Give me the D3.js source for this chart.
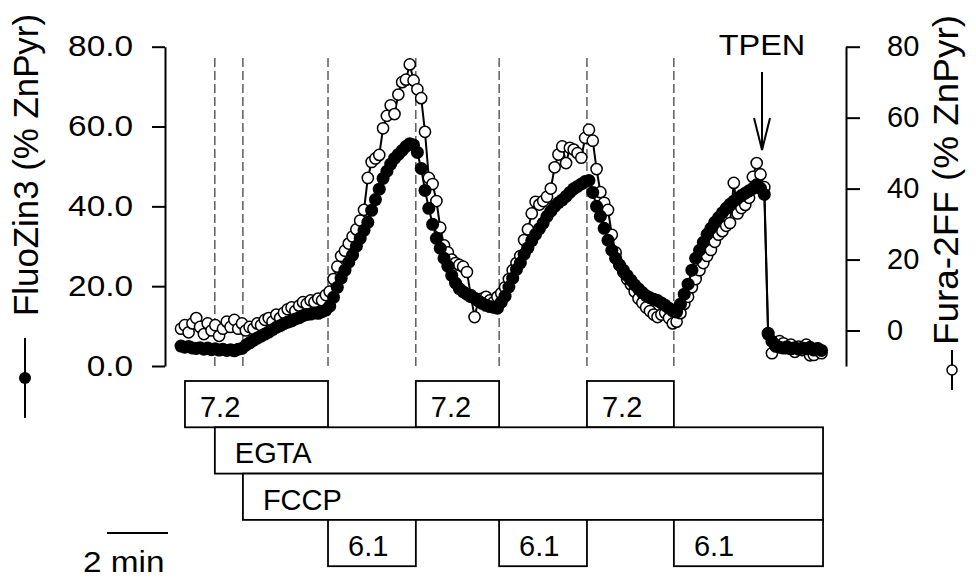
<!DOCTYPE html>
<html><head><meta charset="utf-8">
<script src="https://cdn.jsdelivr.net/npm/d3@7"></script>
<style>
body{margin:0;background:#fff}
text{font-family:"Liberation Sans",Arial,Helvetica,sans-serif;fill:#000}
</style>
</head><body>
<svg id="c" width="976" height="578"></svg>
<script>
// ---- data ----
const sampleIntervalMin = 0.125; // minutes between samples
const fluoZin3 = [
  5.0,4.7,4.9,4.5,4.4,4.6,4.2,4.5,4.1,4.3,
  4.0,4.2,3.9,4.1,3.8,4.2,4.4,5.2,5.8,6.4,
  7.0,7.5,8.0,8.5,9.1,9.7,10.1,10.6,11.0,11.3,
  11.8,12.1,12.6,12.9,13.0,13.3,13.2,13.6,14.0,15.0,
  17.2,19.7,22.0,24.0,26.0,27.8,30.0,32.0,34.0,36.0,
  39.0,41.7,44.3,47.0,48.8,50.6,52.0,53.0,54.0,55.0,
  55.7,55.4,53.5,49.5,44.0,39.5,35.5,32.0,29.5,27.0,
  25.0,22.7,20.8,19.4,18.6,18.0,17.4,17.0,16.3,15.7,
  15.2,14.9,14.7,14.5,16.0,17.5,19.8,22.0,24.2,25.8,
  28.0,29.6,31.4,33.0,34.4,35.8,37.5,38.8,40.0,40.9,
  41.6,42.5,43.5,44.4,45.0,45.6,46.2,46.5,43.5,40.0,
  37.5,34.5,31.5,29.0,27.0,25.3,24.0,22.7,21.5,20.3,
  19.3,18.4,17.6,17.1,16.7,16.4,15.8,15.2,14.5,13.8,
  13.5,15.5,18.0,20.5,24.0,27.0,29.0,31.0,33.0,34.5,
  36.0,37.2,38.4,39.5,40.5,41.3,42.0,42.7,43.3,43.9,
  44.5,45.4,44.5,43.0,8.0,6.2,5.2,4.7,4.5,4.8,
  4.3,4.6,4.2,4.5,4.3,4.7,4.0,4.3,3.9
];
const fura2FF = [
  0.5,1.5,-0.5,2.0,3.5,1.0,-1.0,2.0,0.0,1.5,
  -1.5,0.5,2.5,1.0,3.0,0.5,2.0,0.0,1.0,0.5,
  2.0,1.5,3.0,3.5,2.5,4.5,3.5,5.0,6.0,6.5,
  5.5,7.0,8.0,7.5,8.5,8.0,9.0,8.5,10.0,11.0,
  14.5,18.0,21.0,22.5,24.5,26.5,28.5,31.0,34.0,43.0,
  47.5,48.5,49.5,57.0,60.5,63.5,61.0,66.5,70.0,70.7,
  75.0,70.5,68.0,65.5,56.0,43.0,41.3,36.5,29.0,24.0,
  22.0,20.0,19.0,18.5,18.0,16.5,10.0,3.8,8.5,9.0,
  9.5,8.5,8.0,9.5,10.5,12.2,14.5,17.0,19.0,21.0,
  25.5,28.5,33.0,36.3,35.5,36.5,37.7,40.0,46.0,49.6,
  51.9,47.2,51.5,51.0,50.0,48.7,54.3,56.6,53.5,45.5,
  39.0,36.0,34.0,27.0,22.0,18.5,16.5,14.5,13.0,11.0,
  9.0,7.8,6.5,5.5,4.5,3.8,4.5,5.0,3.5,2.0,
  2.5,4.9,7.5,9.5,12.2,14.5,17.0,19.0,21.0,22.7,
  25.0,27.0,28.0,29.5,30.3,41.6,33.0,34.5,35.4,37.4,
  43.3,47.2,44.0,40.4,-0.7,-6.4,-4.5,-3.0,-3.6,-5.0,
  -4.0,-6.0,-4.5,-5.5,-4.0,-7.0,-6.9,-5.0,-6.4
];
const leftTicks = [0, 20, 40, 60, 80];
const rightTicks = [0, 20, 40, 60, 80];
const eventTimes = [1.11, 2.03, 4.82, 7.70, 10.43, 13.31, 16.16];
const tpenTime = 19.05;
const boxLabels = ["7.2", "7.2", "7.2", "EGTA", "FCCP", "6.1", "6.1", "6.1"];
const boxStarts = [0.13, 7.70, 13.31, 1.11, 2.03, 4.82, 10.43, 16.16];
const boxEnds   = [4.82, 10.43, 16.16, 21.05, 21.05, 7.70, 13.31, 21.05];
const boxRows   = [0, 0, 0, 1, 2, 3, 3, 3];
const scaleBarMin = 2;

// ---- layout ----
const svg = d3.select("#c");
const x = d3.scaleLinear().domain([0, 21]).range([181, 821.5]);
const yL = d3.scaleLinear().domain([0, 80]).range([366, 46.7]);
const yR = d3.scaleLinear().domain([-10, 80]).range([366, 46.7]);
const FS = 29;

function stretch(sel, k) {
  sel.each(function() {
    const w = this.getComputedTextLength();
    d3.select(this).attr("textLength", w * k).attr("lengthAdjust", "spacingAndGlyphs");
  });
}

// dashed event lines
svg.append("g").selectAll("line").data(eventTimes).join("line")
  .attr("x1", d => x(d)).attr("x2", d => x(d))
  .attr("y1", 58).attr("y2", 366)
  .attr("stroke", "#222").attr("stroke-width", 1.1).attr("stroke-dasharray", "9,4");

// left axis
const gL = svg.append("g").attr("transform", "translate(165,0)")
  .call(d3.axisLeft(yL).tickValues(leftTicks).tickFormat(d => d.toFixed(1))
    .tickSize(13).tickSizeOuter(0).tickPadding(19));
gL.select(".domain").attr("stroke-width", 2);
gL.selectAll(".tick line").attr("stroke-width", 2);
gL.selectAll("text").attr("font-size", FS).attr("font-family", "Liberation Sans, Arial, sans-serif").attr("fill", "#000");
stretch(gL.selectAll("text"), 1.15);

// right axis
const gR = svg.append("g").attr("transform", "translate(846,0)")
  .call(d3.axisRight(yR).tickValues(rightTicks).tickFormat(d3.format("d"))
    .tickSize(14).tickSizeOuter(0).tickPadding(27));
gR.select(".domain").attr("stroke-width", 2);
gR.selectAll(".tick line").attr("stroke-width", 2);
gR.selectAll("text").attr("font-size", FS).attr("font-family", "Liberation Sans, Arial, sans-serif").attr("fill", "#000");

// series
const ptsF = fluoZin3.map((v, i) => [x(i * sampleIntervalMin), yL(v)]);
const ptsO = fura2FF.map((v, i) => [x(i * sampleIntervalMin), yR(v)]);
const line = d3.line();

svg.append("path").attr("d", line(ptsO)).attr("fill", "none").attr("stroke", "#000").attr("stroke-width", 2);
svg.append("g").selectAll("circle").data(ptsO).join("circle")
  .attr("cx", d => d[0]).attr("cy", d => d[1]).attr("r", 5.6)
  .attr("fill", "#fff").attr("stroke", "#000").attr("stroke-width", 1.5);

svg.append("path").attr("d", line(ptsF)).attr("fill", "none").attr("stroke", "#000").attr("stroke-width", 2);
svg.append("g").selectAll("circle").data(ptsF).join("circle")
  .attr("cx", d => d[0]).attr("cy", d => d[1]).attr("r", 6.5)
  .attr("fill", "#000");

// TPEN arrow
const tx = x(tpenTime);
const tp = svg.append("text").attr("x", tx).attr("y", 55).attr("text-anchor", "middle")
  .attr("font-size", FS).text("TPEN");
stretch(tp, 1.12);
svg.append("line").attr("x1", tx).attr("x2", tx).attr("y1", 72).attr("y2", 150)
  .attr("stroke", "#000").attr("stroke-width", 2);
svg.append("path").attr("d", `M${tx-8},118 L${tx},150 L${tx+8},118`)
  .attr("fill", "none").attr("stroke", "#000").attr("stroke-width", 2);

// solution boxes
const rowTop = r => 381 + r * 46.3;
const boxes = boxLabels.map((l, i) => ({l, s: boxStarts[i], e: boxEnds[i], r: boxRows[i]}));
const gb = svg.append("g");
gb.selectAll("rect").data(boxes).join("rect")
  .attr("x", d => x(d.s)).attr("y", d => rowTop(d.r))
  .attr("width", d => x(d.e) - x(d.s)).attr("height", 46.3)
  .attr("fill", "#fff").attr("stroke", "#000").attr("stroke-width", 1.8);
gb.selectAll("text").data(boxes).join("text")
  .attr("x", d => x(d.s) + (d.r === 0 ? 15 : 20)).attr("y", d => rowTop(d.r) + 36)
  .attr("font-size", 29).text(d => d.l);

// scale bar
svg.append("line").attr("x1", 107).attr("x2", 107 + x(scaleBarMin) - x(0))
  .attr("y1", 533).attr("y2", 533).attr("stroke", "#000").attr("stroke-width", 2);
const sb = svg.append("text").attr("x", 83).attr("y", 572).attr("font-size", 29).text("2 min");
stretch(sb, 1.15);

// axis titles with legend symbols
const tl = svg.append("text").attr("transform", "translate(38,316) rotate(-90)")
  .attr("font-size", 35).text("FluoZin3 (% ZnPyr)");
tl.attr("textLength", 302).attr("lengthAdjust", "spacingAndGlyphs");
svg.append("line").attr("x1", 25).attr("x2", 25).attr("y1", 338).attr("y2", 418)
  .attr("stroke", "#000").attr("stroke-width", 2);
svg.append("circle").attr("cx", 25).attr("cy", 378).attr("r", 6).attr("fill", "#000");

const tr = svg.append("text").attr("transform", "translate(958,345) rotate(-90)")
  .attr("font-size", 35).text("Fura-2FF (% ZnPyr)");
tr.attr("textLength", 330).attr("lengthAdjust", "spacingAndGlyphs");
svg.append("line").attr("x1", 952).attr("x2", 952).attr("y1", 350).attr("y2", 390)
  .attr("stroke", "#000").attr("stroke-width", 2);
svg.append("circle").attr("cx", 952).attr("cy", 370).attr("r", 5).attr("fill", "#fff")
  .attr("stroke", "#000").attr("stroke-width", 1.5);
</script>
</body></html>
